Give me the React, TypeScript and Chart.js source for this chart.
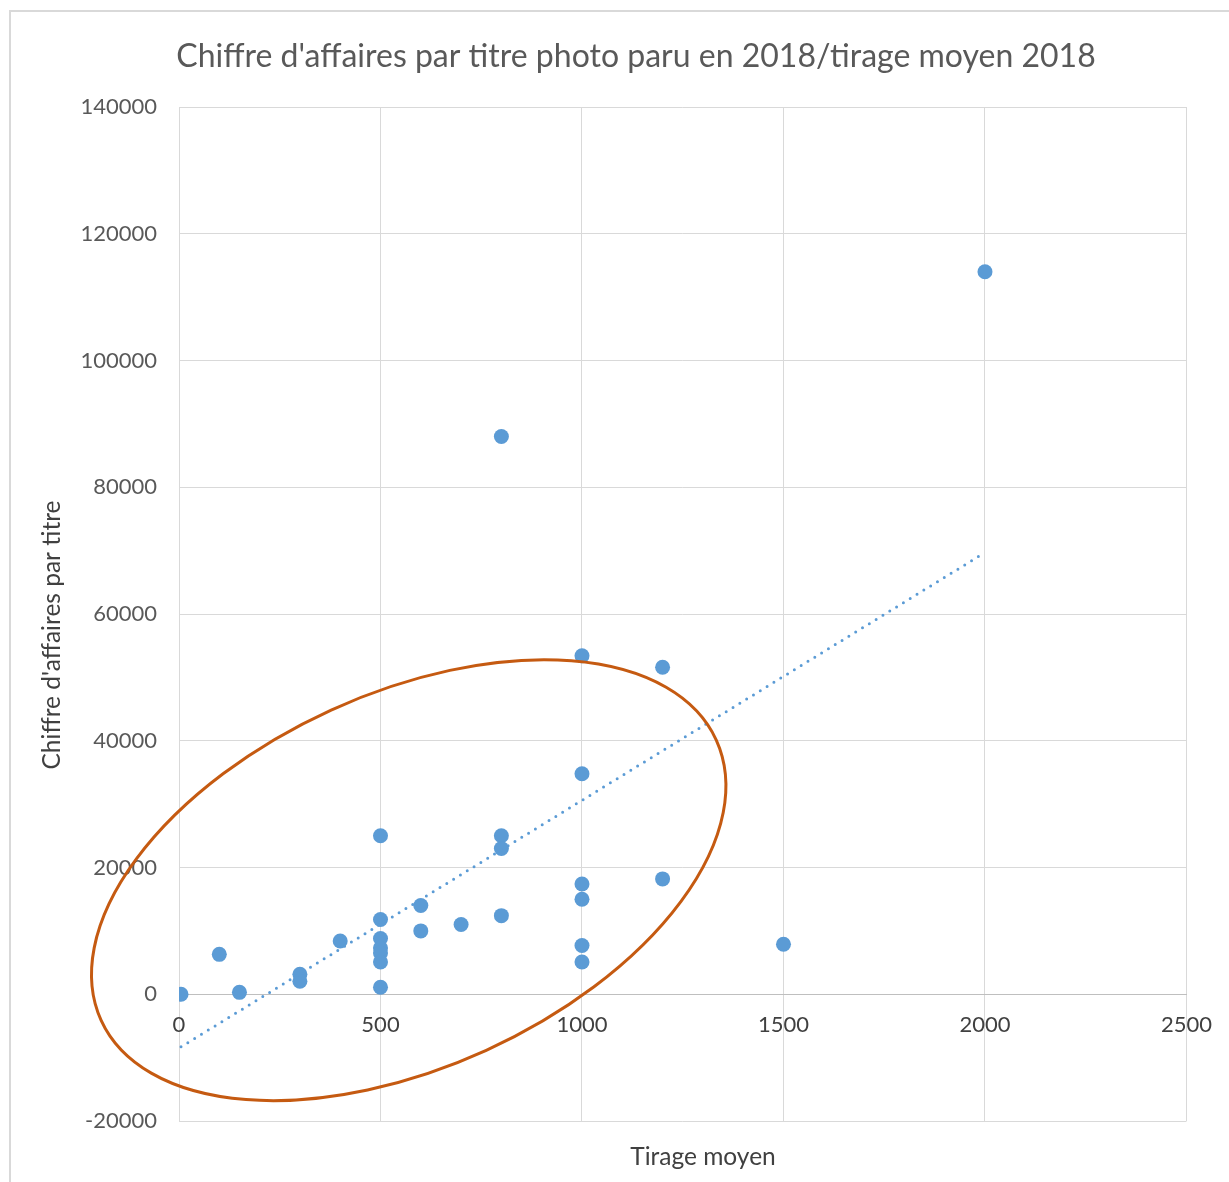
import React, { useEffect, useRef } from "react";
import { Chart, registerables } from "chart.js";

Chart.register(...registerables);

// ---- data ----
const tirageMoyen = [5, 100, 150, 300, 300, 400, 500, 500, 500, 500, 500, 500, 500, 600, 600, 700, 800, 800, 800, 800, 1000, 1000, 1000, 1000, 1000, 1000, 1200, 1200, 1500, 2000];
const chiffreAffaires = [0, 6300, 300, 3150, 2050, 8400, 25000, 11800, 8800, 7300, 6500, 5100, 1100, 14000, 10000, 11000, 12400, 25000, 23000, 88000, 53400, 34800, 17400, 15000, 7700, 5100, 51600, 18200, 7900, 114000];
const trendX = [5, 2000];
const trendY = [-8300, 69700];
const xTicks = [0, 500, 1000, 1500, 2000, 2500];
const yTicks = [-20000, 0, 20000, 40000, 60000, 80000, 100000, 120000, 140000];
const chartTitle = "Chiffre d'affaires par titre photo paru en 2018/tirage moyen 2018";
const xTitle = "Tirage moyen";
const yTitle = "Chiffre d'affaires par titre";
// highlighted zone (ellipse) centre in data units
const ellipseCenter = { x: 570, y: 18000 };

const FONT = "Lato, 'Open Sans', sans-serif";

const decorPlugin = {
  id: "decor",
  beforeDraw(chart: any) {
    const ctx = chart.ctx;
    ctx.save();
    ctx.fillStyle = "#ffffff";
    ctx.fillRect(0, 0, chart.width, chart.height);
    ctx.strokeStyle = "#d9d9d9";
    ctx.lineWidth = 2;
    ctx.beginPath();
    ctx.moveTo(chart.width + 5, 11);
    ctx.lineTo(10, 11);
    ctx.lineTo(10, chart.height + 5);
    ctx.stroke();
    ctx.restore();
  },
  afterDatasetsDraw(chart: any) {
    const ctx = chart.ctx;
    const xs = chart.scales.x;
    const ys = chart.scales.y;
    const cx = xs.getPixelForValue(ellipseCenter.x);
    const cy = ys.getPixelForValue(ellipseCenter.y);
    ctx.save();
    ctx.strokeStyle = "#C55A11";
    ctx.lineWidth = 3;
    ctx.beginPath();
    ctx.ellipse(cx, cy, 338, 187, (-24.5 * Math.PI) / 180, 0, Math.PI * 2);
    ctx.stroke();
    ctx.restore();
  },
  afterDraw(chart: any) {
    const ctx = chart.ctx;
    ctx.save();
    ctx.textAlign = "center";
    ctx.textBaseline = "middle";
    ctx.fillStyle = "#595959";
    ctx.font = `32px ${FONT}`;
    ctx.fillText(chartTitle, 636, 57);
    ctx.fillStyle = "#404040";
    ctx.font = `24.5px ${FONT}`;
    ctx.fillText(xTitle, 703, 1157);
    ctx.translate(52, 635);
    ctx.rotate(-Math.PI / 2);
    ctx.fillText(yTitle, 0, 0);
    ctx.restore();
  },
};

export default function App() {
  const ref = useRef<HTMLCanvasElement | null>(null);

  useEffect(() => {
    if (!ref.current) return;
    const chart = new Chart(ref.current, {
      type: "scatter",
      data: {
        datasets: [
          {
            type: "line",
            label: "Tendance",
            data: trendX.map((x, i) => ({ x, y: trendY[i] })),
            borderColor: "#5B9BD5",
            borderWidth: 3,
            borderDash: [0, 8],
            borderCapStyle: "round",
            pointRadius: 0,
            pointHoverRadius: 0,
            fill: false,
            showLine: true,
          } as any,
          {
            label: "Titres",
            data: tirageMoyen.map((x, i) => ({ x, y: chiffreAffaires[i] })),
            backgroundColor: "#5B9BD5",
            borderWidth: 0,
            pointRadius: 7.5,
            pointHoverRadius: 7.5,
          },
        ],
      },
      options: {
        responsive: false,
        animation: false,
        layout: { padding: { top: 107, bottom: 61, right: 42, left: 0 } },
        plugins: {
          legend: { display: false },
          title: { display: false },
          tooltip: { enabled: false },
        },
        scales: {
          x: {
            type: "linear",
            position: { y: 0 } as any,
            min: 0,
            max: 2500,
            afterBuildTicks: (s: any) => {
              s.ticks = xTicks.map((v) => ({ value: v }));
            },
            grid: { color: "#d9d9d9", lineWidth: 1, drawTicks: false },
            border: { display: true, color: "#bfbfbf", width: 1 },
            ticks: {
              padding: 17,
              color: "#404040",
              font: { family: FONT, size: 22 },
              maxRotation: 0,
              callback: (v: any) => String(v),
            },
          },
          y: {
            type: "linear",
            position: "left",
            min: -20000,
            max: 140000,
            afterBuildTicks: (s: any) => {
              s.ticks = yTicks.map((v) => ({ value: v }));
            },
            afterFit: (s: any) => {
              s.width = 179;
            },
            grid: { color: "#d9d9d9", lineWidth: 1, drawTicks: false },
            border: { display: false },
            ticks: {
              padding: 22,
              color: "#595959",
              font: { family: FONT, size: 22 },
              callback: (v: any) => String(v),
            },
          },
        },
      },
      plugins: [decorPlugin],
    });
    return () => chart.destroy();
  }, []);

  return (
    <div style={{ position: "absolute", left: 0, top: 0, width: 1229, height: 1182 }}>
      <canvas ref={ref} width={1229} height={1182} style={{ display: "block" }} />
    </div>
  );
}
